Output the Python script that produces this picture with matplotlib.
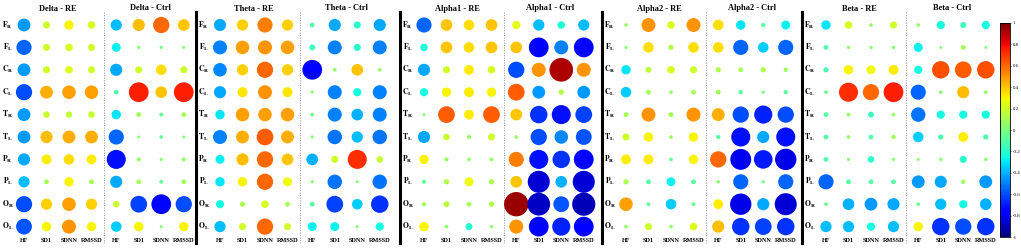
import numpy as np
import matplotlib
import matplotlib.pyplot as plt
from matplotlib.colors import Normalize

plt.rcParams['font.family'] = 'Liberation Serif'
plt.rcParams['mathtext.fontset'] = 'stix'

## --------------------------- Data --------------------------------------

bands = ['Delta', 'Theta', 'Alpha1', 'Alpha2', 'Beta']
measures = ['HF', 'SD1', 'SDNN', 'RMSSD']
regions = [('F', 'R'), ('F', 'L'), ('C', 'R'), ('C', 'L'), ('T', 'R'),
           ('T', 'L'), ('P', 'R'), ('P', 'L'), ('O', 'R'), ('O', 'L')]

# correlation values, rows = regions, cols = HF, SD1, SDNN, RMSSD
delta_re = [[-0.45, 0.20, 0.30, 0.22],
            [-0.55, 0.20, 0.22, 0.20],
            [-0.45, 0.20, 0.22, 0.20],
            [-0.60, 0.45, 0.48, 0.48],
            [-0.45, 0.18, 0.17, 0.18],
            [-0.45, 0.42, 0.45, 0.45],
            [-0.42, 0.32, 0.35, 0.32],
            [-0.38, 0.10, 0.30, 0.10],
            [-0.60, 0.38, 0.48, 0.38],
            [-0.58, 0.30, 0.50, 0.30]]
delta_ctrl = [[-0.38, 0.42, 0.60, 0.40],
              [-0.28, 0.03, -0.03, 0.02],
              [-0.42, 0.20, 0.35, 0.20],
              [-0.10, 0.75, 0.40, 0.75],
              [-0.30, 0.10, -0.06, 0.10],
              [-0.55, 0.02, -0.05, 0.02],
              [-0.72, 0.07, 0.03, 0.07],
              [-0.42, 0.10, -0.06, 0.10],
              [0.18, -0.62, -0.75, -0.60],
              [-0.35, 0.30, 0.02, 0.30]]
theta_re = [[-0.42, 0.38, 0.55, 0.38],
            [-0.50, 0.48, 0.50, 0.48],
            [-0.48, 0.38, 0.60, 0.38],
            [-0.42, 0.33, 0.50, 0.33],
            [-0.30, 0.48, 0.48, 0.48],
            [-0.50, 0.45, 0.62, 0.45],
            [-0.28, 0.42, 0.60, 0.40],
            [-0.30, 0.30, 0.60, 0.28],
            [-0.25, 0.12, 0.22, 0.10],
            [-0.38, 0.20, 0.60, 0.20]]
theta_ctrl = [[-0.10, -0.42, -0.20, -0.42],
              [-0.15, -0.50, -0.20, -0.50],
              [-0.75, 0.05, 0.40, 0.05],
              [0.03, -0.50, -0.25, -0.50],
              [-0.05, -0.50, -0.40, -0.50],
              [0.03, -0.52, -0.38, -0.52],
              [-0.40, 0.20, 0.72, 0.18],
              [0.03, -0.52, 0.02, -0.52],
              [-0.10, -0.62, -0.35, -0.65],
              [-0.28, -0.28, 0.02, -0.25]]
alpha1_re = [[-0.55, 0.40, 0.35, 0.40],
             [-0.22, 0.40, 0.35, 0.40],
             [-0.42, 0.20, 0.32, 0.22],
             [-0.25, 0.30, 0.32, 0.30],
             [0.03, 0.62, 0.32, 0.62],
             [-0.42, 0.18, 0.07, 0.20],
             [0.30, 0.07, 0.05, 0.06],
             [-0.07, 0.12, 0.28, 0.12],
             [0.08, 0.15, 0.10, 0.12],
             [0.30, 0.05, -0.20, 0.04]]
alpha1_ctrl = [[0.25, -0.38, -0.22, -0.38],
               [0.40, -0.75, -0.50, -0.75],
               [-0.60, 0.50, 0.92, 0.50],
               [0.62, -0.45, 0.12, -0.45],
               [0.40, -0.65, -0.72, -0.62],
               [0.05, -0.60, -0.48, -0.58],
               [0.55, -0.72, -0.65, -0.75],
               [0.40, -0.85, -0.40, -0.85],
               [0.95, -0.88, -0.58, -0.90],
               [0.50, -0.75, -0.68, -0.75]]
alpha2_re = [[0.05, 0.50, 0.22, 0.50],
             [0.03, 0.35, 0.12, 0.35],
             [-0.30, 0.15, 0.22, 0.20],
             [-0.35, 0.10, 0.05, 0.10],
             [0.10, 0.50, 0.10, 0.50],
             [0.20, 0.30, 0.05, 0.30],
             [0.32, 0.32, -0.05, 0.30],
             [0.12, -0.10, -0.28, -0.10],
             [0.48, -0.06, -0.35, -0.06],
             [0.05, 0.20, 0.05, 0.22]]
alpha2_ctrl = [[0.35, -0.30, -0.08, -0.28],
               [0.35, -0.55, -0.35, -0.55],
               [0.12, 0.10, 0.12, 0.08],
               [0.10, -0.08, -0.03, -0.08],
               [0.45, -0.60, -0.68, -0.60],
               [-0.08, -0.72, -0.42, -0.72],
               [0.60, -0.80, -0.70, -0.82],
               [0.04, -0.55, -0.03, -0.55],
               [0.32, -0.82, -0.42, -0.85],
               [0.42, -0.65, -0.62, -0.65]]
beta_re = [[-0.30, 0.22, 0.05, 0.20],
           [-0.10, 0.04, 0.04, 0.04],
           [-0.12, 0.30, 0.28, 0.32],
           [-0.05, 0.72, 0.60, 0.75],
           [-0.10, 0.06, -0.15, 0.05],
           [-0.10, 0.05, -0.10, 0.08],
           [-0.10, 0.03, -0.18, 0.03],
           [-0.55, -0.10, -0.10, -0.10],
           [-0.05, -0.40, -0.45, -0.42],
           [-0.38, -0.38, -0.25, -0.38]]
beta_ctrl = [[0.05, -0.25, -0.15, -0.25],
             [-0.28, 0.02, 0.10, 0.02],
             [-0.25, 0.65, 0.62, 0.65],
             [-0.55, 0.05, 0.42, 0.05],
             [-0.52, -0.25, -0.25, -0.25],
             [-0.35, -0.12, 0.32, -0.12],
             [0.02, 0.04, -0.20, 0.04],
             [-0.45, -0.42, 0.08, -0.45],
             [-0.05, -0.38, -0.25, -0.40],
             [0.30, -0.65, -0.60, -0.65]]

re_values = [delta_re, theta_re, alpha1_re, alpha2_re, beta_re]
ctrl_values = [delta_ctrl, theta_ctrl, alpha1_ctrl, alpha2_ctrl, beta_ctrl]

cbar_ticks = [1, 0.8, 0.6, 0.4, 0.2, 0, -0.2, -0.4, -0.6, -0.8, -1]

## --------------------------- Layout --------------------------------------

W, H = 1021, 249
band_edges = [0, 196, 400, 602, 802, 1000]   # px
col_px = 22.5
row_px = 22.4
first_col_px = 24
first_row_px = 25
ctrl_offset = 4.1
divider_x = 3.55

cmap = matplotlib.colormaps['jet']
norm = Normalize(-1, 1)


def marker_size(r):
    d_px = 2.5 + 23 * np.abs(r)
    return (d_px * 0.72) ** 2


def py(px):
    return (px - first_row_px) / row_px


fig = plt.figure(figsize=(W / 100, H / 100), dpi=100)

for b, band in enumerate(bands):
    left, right = band_edges[b], band_edges[b + 1]
    ax = fig.add_axes([left / W, 0, (right - left) / W, 1])
    ax.set_xlim(-first_col_px / col_px, (right - left - first_col_px) / col_px)
    ax.set_ylim(py(H), py(0))
    ax.axis('off')

    for offset, vals in [(0, re_values[b]), (ctrl_offset, ctrl_values[b])]:
        v = np.array(vals)
        xx, yy = np.meshgrid(np.arange(len(measures)) + offset, np.arange(len(regions)))
        ax.scatter(xx.ravel(), yy.ravel(), s=marker_size(v.ravel()), c=v.ravel(),
                   cmap=cmap, norm=norm, linewidths=0, zorder=3)
        for j, m in enumerate(measures):
            ax.text(j + offset, py(240), m, ha='center', va='center',
                    fontsize=4.5, fontweight='bold')

    ax.text(1.5, py(9), band + ' - RE', ha='center', va='center',
            fontsize=6, fontweight='bold')
    ax.text(1.5 + ctrl_offset, py(7.5), band + ' - Ctrl', ha='center', va='center',
            fontsize=6, fontweight='bold')

    for i, (a, s) in enumerate(regions):
        ax.text(-0.72, i, r'$\mathbf{%s}_{\mathbf{%s}}$' % (a, s), ha='center',
                va='center', fontsize=5.5)

    ax.plot([divider_x, divider_x], [py(12), py(243)], color='#999999',
            linestyle=(0, (1.5, 1.5)), linewidth=0.6)
    if b > 0:
        x0 = -first_col_px / col_px
        ax.plot([x0, x0], [py(12), py(243)], color='black', linewidth=2.2,
                clip_on=False)

## --------------------------- Colorbar --------------------------------------

cax = fig.add_axes([1000 / W, (H - 237) / H, 10 / W, 214 / H])
sm = plt.cm.ScalarMappable(norm=norm, cmap=cmap)
cb = fig.colorbar(sm, cax=cax, ticks=cbar_ticks)
cb.ax.set_yticklabels([str(t) for t in cbar_ticks])
cb.ax.tick_params(labelsize=3.5, length=1, width=0.4, pad=1)
cb.outline.set_linewidth(0.6)

fig.savefig('out.png', dpi=100)
